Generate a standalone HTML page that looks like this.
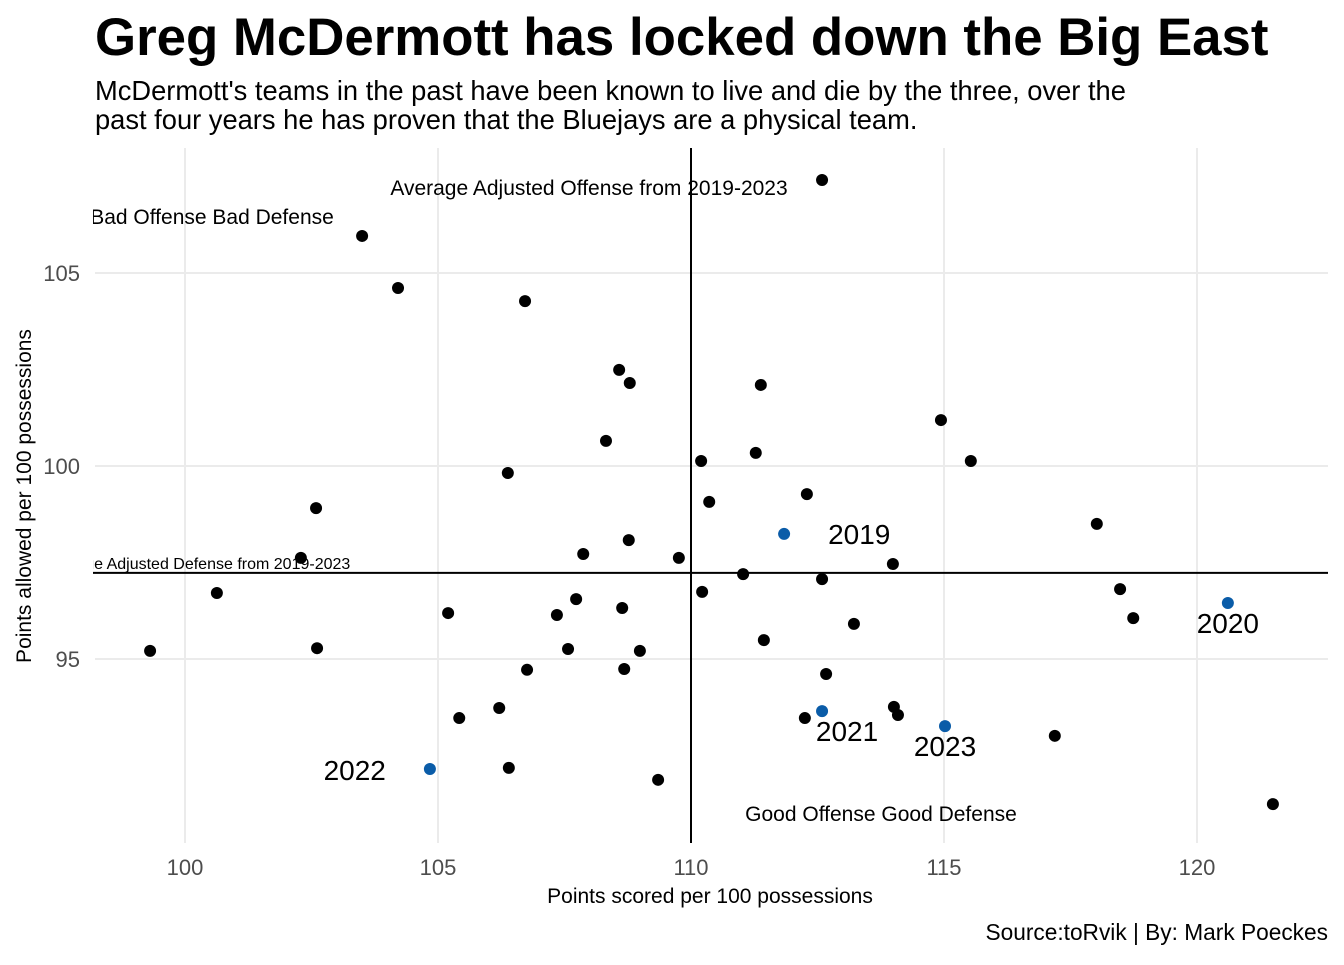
<!DOCTYPE html>
<html><head><meta charset="utf-8"><style>
body{margin:0;background:#fff;}
svg text{font-family:"Liberation Sans",Arial,sans-serif;}
</style></head><body>
<svg width="1344" height="960" viewBox="0 0 1344 960" xmlns="http://www.w3.org/2000/svg">
<defs><clipPath id="pc"><rect x="93" y="148" width="1240" height="700"/></clipPath></defs>
<rect width="1344" height="960" fill="#fff"/>
<text x="95" y="55" font-size="52.8" font-weight="bold">Greg McDermott has locked down the Big East</text>
<text x="95" y="100" font-size="27.3">McDermott's teams in the past have been known to live and die by the three, over the</text>
<text x="95" y="129" font-size="27.3">past four years he has proven that the Bluejays are a physical team.</text>
<g id="grid"></g>
<g id="ticks"></g>
<g id="refs" clip-path="url(#pc)"></g>
<g id="pts"></g>
<text x="710" y="903" font-size="21" text-anchor="middle">Points scored per 100 possessions</text>
<text transform="translate(31,496) rotate(-90)" font-size="21" text-anchor="middle">Points allowed per 100 possessions</text>
<text x="1328" y="940" font-size="22.7" text-anchor="end">Source:toRvik | By: Mark Poeckes</text>
</svg>
<script>
const xTicks=[100,105,110,115,120];
const yTicks=[95,100,105];
const teamX=[112.59,103.50,104.21,106.72,108.58,108.79,111.38,108.32,114.94,111.28,110.20,115.53,106.38,102.59,112.29,110.36,118.02,108.77,107.87,102.29,109.76,113.99,111.03,112.59,100.63,110.22,118.48,107.73,118.74,105.20,107.35,108.64,113.22,111.44,99.31,102.61,107.57,108.99,106.76,108.68,112.67,105.42,106.21,112.25,114.01,114.09,117.19,106.40,109.35,121.50];
const teamY=[107.41,105.96,104.61,104.27,102.49,102.15,102.10,100.65,101.19,100.34,100.13,100.13,99.82,98.91,99.27,99.07,98.50,98.08,97.72,97.62,97.62,97.46,97.20,97.07,96.71,96.74,96.81,96.55,96.06,96.19,96.14,96.32,95.91,95.49,95.21,95.28,95.26,95.21,94.72,94.74,94.61,93.47,93.73,93.47,93.76,93.55,93.01,92.18,91.87,91.24];
const cuYears=["2019","2020","2021","2022","2023"];
const cuX=[111.84,120.61,112.59,104.84,115.02];
const cuY=[98.24,96.45,93.65,92.15,93.26];
const avgOff=110.0;
const avgDef=97.23;
const NS="http://www.w3.org/2000/svg";
const sx=v=>185+(v-100)*50.6;
const sy=v=>466-(v-100)*38.6;
function mk(tag,attrs,parent,txt){const e=document.createElementNS(NS,tag);for(const k in attrs)e.setAttribute(k,attrs[k]);if(txt!==undefined)e.textContent=txt;document.getElementById(parent).appendChild(e);return e;}
xTicks.forEach(t=>{
 let l=mk('line',{x1:sx(t),x2:sx(t),y1:148,y2:843,stroke:'#ebebeb','stroke-width':2},'grid');
 
 
 let tx=mk('text',{x:sx(t),y:875,'font-size':22,fill:'#4d4d4d','text-anchor':'middle'},'ticks',t);
 
 
});
yTicks.forEach(t=>{
 let l=mk('line',{x1:95,x2:1328,y1:sy(t),y2:sy(t),stroke:'#ebebeb','stroke-width':2},'grid');
 
 
 let tx=mk('text',{x:80,y:sy(t)+8,'font-size':22,fill:'#4d4d4d','text-anchor':'end'},'ticks',t);
 
 
});
let vl=mk('line',{x1:sx(avgOff),x2:sx(avgOff),y1:148,y2:843,stroke:'#000','stroke-width':2},'refs');


let hl=mk('line',{x1:93,x2:1328,y1:sy(avgDef),y2:sy(avgDef),stroke:'#000','stroke-width':2},'refs');


let a1=mk('text',{x:589,y:195,'font-size':21,'text-anchor':'middle'},'refs','Average Adjusted Offense from 2019-2023');


let a2=mk('text',{x:197,y:569,'font-size':16,'text-anchor':'middle'},'refs','Average Adjusted Defense from 2019-2023');


let a3=mk('text',{x:212,y:224,'font-size':21,'text-anchor':'middle'},'refs','Bad Offense Bad Defense');


let a4=mk('text',{x:881,y:821,'font-size':21,'text-anchor':'middle'},'refs','Good Offense Good Defense');


teamX.forEach((v,i)=>{
 let c=mk('circle',{cx:sx(v),cy:sy(teamY[i]),r:6,fill:'#000'},'pts');
 
 
});
const off=[[44,10,'start'],[0,30,'middle'],[25,30,'middle'],[-44,11,'end'],[0,30,'middle']];
cuX.forEach((v,i)=>{
 let c=mk('circle',{cx:sx(v),cy:sy(cuY[i]),r:6,fill:'#0a5ca8'},'pts');
 
 
 let t=mk('text',{x:sx(v)+off[i][0],y:sy(cuY[i])+off[i][1],'font-size':28,'text-anchor':off[i][2]},'pts',cuYears[i]);
 
 
});
</script>
</body></html>
